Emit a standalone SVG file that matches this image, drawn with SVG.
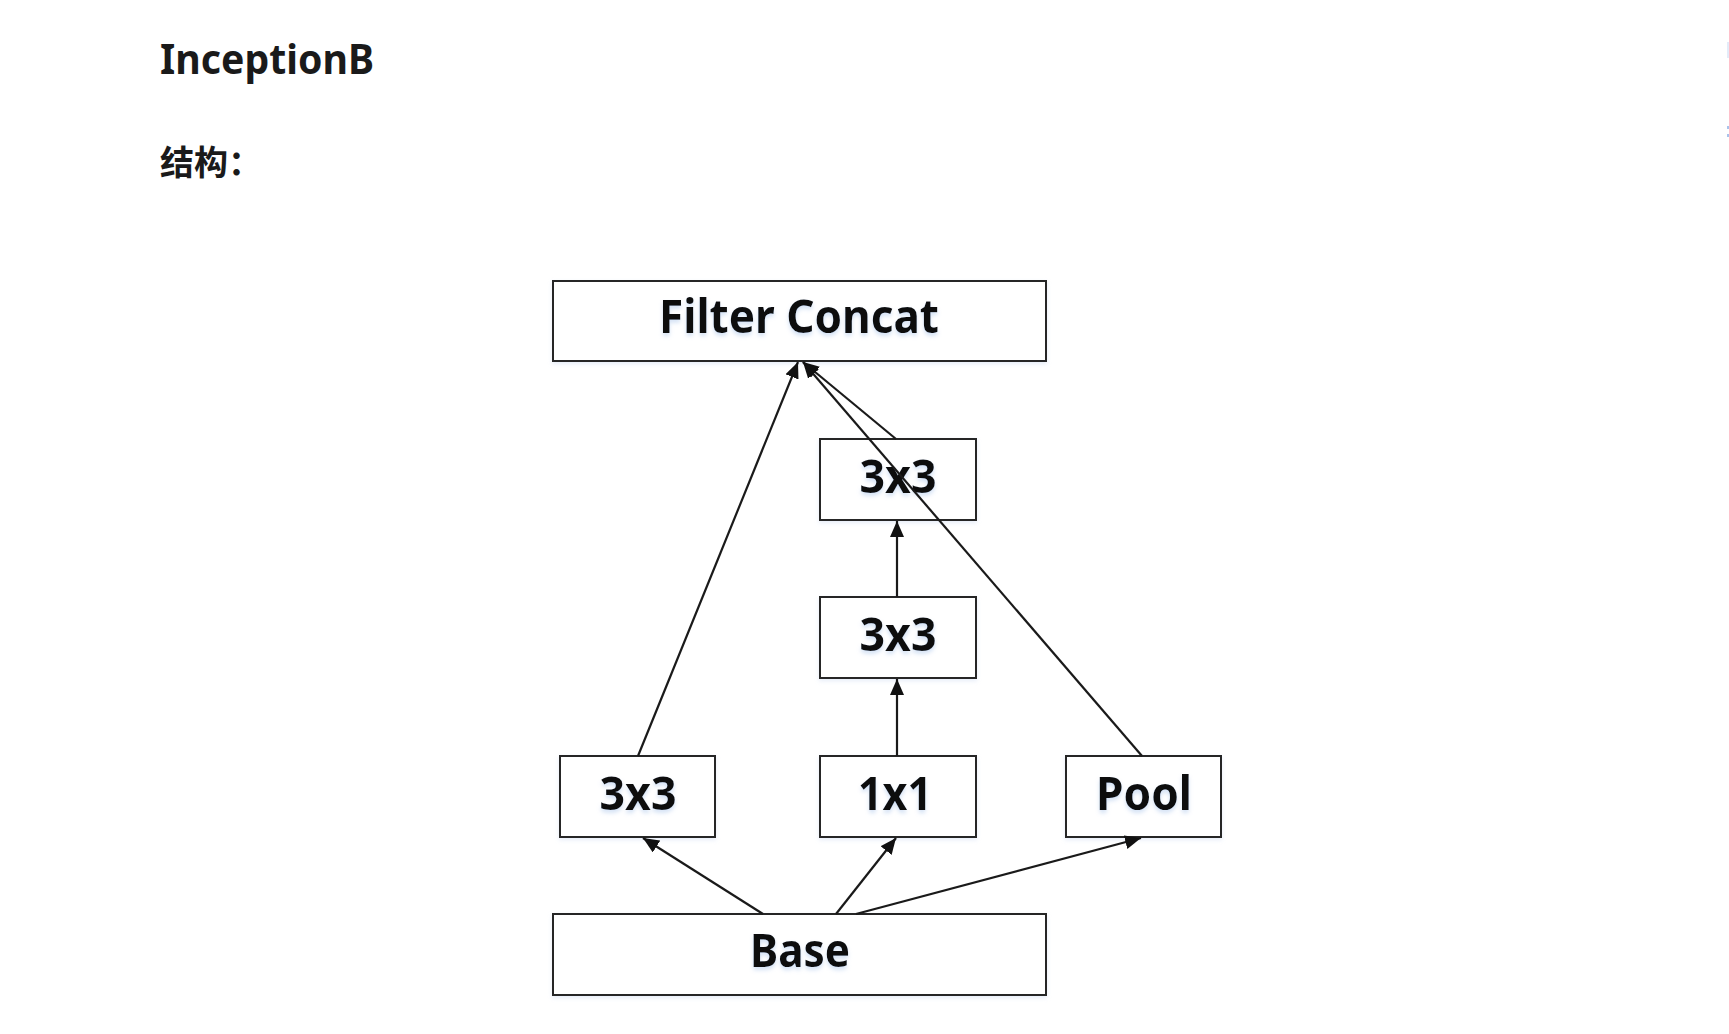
<svg xmlns="http://www.w3.org/2000/svg" width="1729" height="1034" viewBox="0 0 1729 1034">
  <style>
    .heading { font-family: "Noto Sans", "Open Sans", "Liberation Sans", sans-serif; font-weight: 700; fill: #1a1a1a; }
    .cjk { font-family: "Noto Sans CJK SC", "Noto Sans", sans-serif; font-weight: 700; fill: #1a1a1a; }
    .box { fill: #ffffff; stroke: #262626; stroke-width: 2; filter: url(#boxShade); }
    .label { font-family: "Noto Sans", "Open Sans", "Liberation Sans", sans-serif; font-weight: 700; font-size: 47px; fill: #111111; text-anchor: middle; filter: url(#glow); }
    .edge { stroke: #1a1a1a; stroke-width: 2.2; fill: none; marker-end: url(#arrow); }
  </style>
  <defs>
    <marker id="arrow" markerUnits="userSpaceOnUse" markerWidth="17" markerHeight="15" refX="16" refY="7" orient="auto">
      <path d="M0,0 L16,7 L0,14 Z" fill="#111111"/>
    </marker>
    <filter id="glow" x="-10%" y="-20%" width="120%" height="150%">
      <feDropShadow dx="0" dy="3" stdDeviation="2" flood-color="#9fbde8" flood-opacity="0.45"/>
    </filter>
    <filter id="boxShade" x="-5%" y="-10%" width="110%" height="130%">
      <feDropShadow dx="0" dy="2" stdDeviation="2" flood-color="#b9cdec" flood-opacity="0.35"/>
    </filter>
  </defs>

  <rect width="1729" height="1034" fill="#ffffff"/>

  <!-- page headings -->
  <text class="heading" x="160" y="74" font-size="41" textLength="214" lengthAdjust="spacingAndGlyphs">InceptionB</text>
  <text class="cjk" x="160" y="175" font-size="34">结构：</text>

  <!-- scrollbar remnants at the right edge -->
  <rect x="1727" y="42" width="2" height="16" fill="#e3ebf8"/>
  <rect x="1727" y="126" width="2" height="3" fill="#a9c3ec"/>
  <rect x="1727" y="134" width="2" height="3" fill="#a9c3ec"/>

  <!-- nodes -->
  <g id="filter-concat">
    <rect class="box" x="553" y="281" width="493" height="80"/>
    <text class="label" x="799" y="333" textLength="280" lengthAdjust="spacingAndGlyphs">Filter Concat</text>
  </g>
  <g id="conv3x3-top">
    <rect class="box" x="820" y="439" width="156" height="81"/>
    <text class="label" x="898" y="493" textLength="77" lengthAdjust="spacingAndGlyphs">3x3</text>
  </g>
  <g id="conv3x3-mid">
    <rect class="box" x="820" y="597" width="156" height="81"/>
    <text class="label" x="898" y="651" textLength="77" lengthAdjust="spacingAndGlyphs">3x3</text>
  </g>
  <g id="conv3x3-left">
    <rect class="box" x="560" y="756" width="155" height="81"/>
    <text class="label" x="638" y="810" textLength="77" lengthAdjust="spacingAndGlyphs">3x3</text>
  </g>
  <g id="conv1x1">
    <rect class="box" x="820" y="756" width="156" height="81"/>
    <text class="label" x="895" y="810" textLength="74" lengthAdjust="spacingAndGlyphs">1x1</text>
  </g>
  <g id="pool">
    <rect class="box" x="1066" y="756" width="155" height="81"/>
    <text class="label" x="1144" y="810" textLength="96" lengthAdjust="spacingAndGlyphs">Pool</text>
  </g>
  <g id="base">
    <rect class="box" x="553" y="914" width="493" height="81"/>
    <text class="label" x="800" y="967" textLength="100" lengthAdjust="spacingAndGlyphs">Base</text>
  </g>

  <!-- connectors, drawn above the nodes: the Pool branch crosses the upper 3x3 box -->
  <g id="connectors">
    <line class="edge" x1="763" y1="914" x2="643" y2="838"/>
    <line class="edge" x1="836" y1="914" x2="896" y2="838"/>
    <line class="edge" x1="856" y1="914" x2="1141" y2="838"/>
    <line class="edge" x1="897" y1="756" x2="897" y2="679"/>
    <line class="edge" x1="897" y1="597" x2="897" y2="521"/>
    <line class="edge" x1="638" y1="756" x2="798" y2="362"/>
    <line class="edge" x1="896" y1="439" x2="803" y2="362"/>
    <line class="edge" x1="1142" y1="756" x2="803" y2="362"/>
  </g>
</svg>
